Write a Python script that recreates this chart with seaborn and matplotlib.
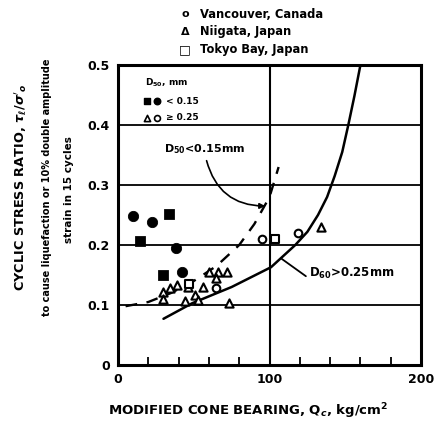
import matplotlib
matplotlib.use("Agg")
import matplotlib.pyplot as plt
import seaborn as sns
from matplotlib.patches import FancyArrowPatch

sns.set_theme(style="white")
plt.rcParams['font.family'] = ['DejaVu Sans']
plt.rcParams['font.weight'] = 'bold'
plt.rcParams['text.color'] = 'black'
plt.rcParams['xtick.color'] = 'black'
plt.rcParams['ytick.color'] = 'black'
plt.rcParams['axes.labelcolor'] = 'black'

# ---- data ----
fine_circle_x = [10, 22.4, 38.3, 42.2]
fine_circle_y = [0.248, 0.238, 0.195, 0.155]
fine_square_x = [14.5, 29.7, 33.7]
fine_square_y = [0.207, 0.150, 0.252]

coarse_tri_x = [60, 66, 72, 56, 46, 39, 34, 30, 29.5, 44, 51, 53, 73, 65, 134]
coarse_tri_y = [0.155, 0.155, 0.155, 0.130, 0.130, 0.133, 0.128, 0.122, 0.110, 0.107, 0.117, 0.108, 0.103, 0.145, 0.230]
coarse_circle_x = [95, 118.8, 65]
coarse_circle_y = [0.210, 0.220, 0.128]
coarse_square_x = [103.6, 47]
coarse_square_y = [0.210, 0.135]

dash_x = [5, 20, 35, 50, 65, 80, 90, 100, 106]
dash_y = [0.098, 0.105, 0.120, 0.140, 0.165, 0.200, 0.235, 0.280, 0.330]
solid_x = [30, 49, 75, 101, 117, 125, 132, 138, 143, 148, 152, 156, 160]
solid_y = [0.077, 0.103, 0.130, 0.163, 0.200, 0.222, 0.250, 0.280, 0.315, 0.355, 0.400, 0.448, 0.500]

x_ticks = [0, 100, 200]
y_ticks = [0, 0.1, 0.2, 0.3, 0.4, 0.5]
y_tick_labels = ["0", "0.1", "0.2", "0.3", "0.4", "0.5"]

# ---- figure ----
fig = plt.figure(figsize=(4.43, 4.26), dpi=100)
ax = fig.add_axes([0.2664, 0.1432, 0.684, 0.7042])

for yv in [0.1, 0.2, 0.3, 0.4]:
    ax.axhline(yv, color="black", lw=1.3, zorder=1)
ax.axvline(100, color="black", lw=1.5, zorder=1)

sns.lineplot(x=dash_x, y=dash_y, ax=ax, color="black", lw=1.7, linestyle=(0, (5, 4)), zorder=2)
sns.lineplot(x=solid_x, y=solid_y, ax=ax, color="black", lw=1.8, zorder=2)

sns.scatterplot(x=fine_circle_x, y=fine_circle_y, ax=ax, marker="o", s=55, color="black", edgecolor="black", zorder=3)
sns.scatterplot(x=fine_square_x, y=fine_square_y, ax=ax, marker="s", s=50, color="black", edgecolor="black", zorder=3)
sns.scatterplot(x=coarse_tri_x, y=coarse_tri_y, ax=ax, marker="^", s=35, facecolor="white", edgecolor="black", linewidth=1.5, zorder=3)
sns.scatterplot(x=coarse_circle_x, y=coarse_circle_y, ax=ax, marker="o", s=30, facecolor="white", edgecolor="black", linewidth=1.5, zorder=3)
sns.scatterplot(x=coarse_square_x, y=coarse_square_y, ax=ax, marker="s", s=28, facecolor="white", edgecolor="black", linewidth=1.5, zorder=3)

ax.set_xlim(0, 200)
ax.set_ylim(0, 0.5)
ax.set_xticks(x_ticks)
ax.set_xticklabels([str(v) for v in x_ticks], fontsize=9, fontweight="bold")
ax.set_yticks(y_ticks)
ax.set_yticklabels(y_tick_labels, fontsize=9, fontweight="bold")
ax.set_xticks([20, 40, 60, 80, 120, 140, 160, 180], minor=True)
ax.tick_params(axis="x", which="minor", direction="in", length=6, width=1.3, bottom=True)
ax.tick_params(axis="both", which="major", length=0, pad=6)
for s in ax.spines.values():
    s.set_linewidth(2.2)
    s.set_color("black")

# inner legend
ax.text(32, 0.47, r"D$_{50}$, mm", fontsize=6.5, fontweight="bold", ha="center", va="center")
ax.scatter([19], [0.44], marker="s", s=22, color="black")
ax.scatter([26], [0.44], marker="o", s=22, color="black")
ax.text(32, 0.44, "< 0.15", fontsize=6.5, fontweight="bold", va="center")
ax.scatter([19], [0.412], marker="^", s=20, facecolor="white", edgecolor="black", linewidth=1.2)
ax.scatter([26], [0.412], marker="o", s=18, facecolor="white", edgecolor="black", linewidth=1.2)
ax.text(32, 0.412, "≥ 0.25", fontsize=6.5, fontweight="bold", va="center")

# annotations
ax.text(84, 0.36, r"D$_{50}$<0.15mm", fontsize=8, fontweight="bold", va="center", ha="right")
arr1 = FancyArrowPatch((58, 0.345), (99, 0.265), connectionstyle="arc3,rad=0.4",
                       arrowstyle="-|>", mutation_scale=8, color="black", lw=1.2)
ax.add_patch(arr1)
ax.text(126, 0.152, r"D$_{60}$>0.25mm", fontsize=8.5, fontweight="bold", va="center")
ax.plot([108, 124], [0.177, 0.148], color="black", lw=1.3)

# top legend
fig.text(0.418, 0.967, "o", fontsize=8, fontweight="bold", va="center", ha="center")
fig.text(0.451, 0.967, "Vancouver, Canada", fontsize=8.3, fontweight="bold", va="center")
fig.text(0.418, 0.926, "Δ", fontsize=8, fontweight="bold", va="center", ha="center")
fig.text(0.451, 0.926, "Niigata, Japan", fontsize=8.3, fontweight="bold", va="center")
fig.text(0.418, 0.884, "□", fontsize=9, fontweight="bold", va="center", ha="center")
fig.text(0.451, 0.884, "Tokyo Bay, Japan", fontsize=8.3, fontweight="bold", va="center")

# axis labels
fig.text(0.56, 0.035, r"MODIFIED CONE BEARING, Q$_c$, kg/cm$^2$", fontsize=9.5, fontweight="bold",
         ha="center", va="center")
fig.text(0.046, 0.56, r"CYCLIC STRESS RATIO, $\tau_\ell/\sigma'_o$", fontsize=9.3, fontweight="bold",
         rotation=90, ha="center", va="center")
fig.text(0.105, 0.56, "to cause liquefaction or 10% double amplitude", fontsize=7, fontweight="bold",
         rotation=90, ha="center", va="center")
fig.text(0.155, 0.555, "strain in 15 cycles", fontsize=7.5, fontweight="bold",
         rotation=90, ha="center", va="center")

fig.savefig("out.png", dpi=100)
